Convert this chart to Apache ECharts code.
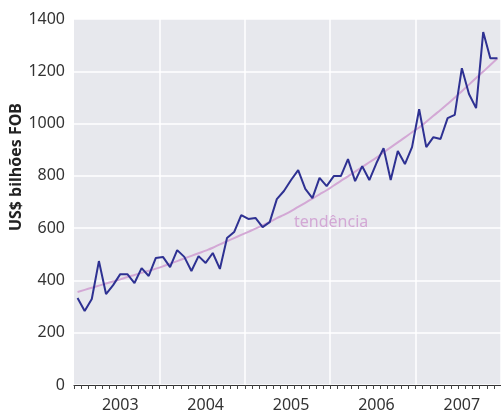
<!DOCTYPE html>
<html>
<head>
<meta charset="utf-8">
<script src="https://cdn.jsdelivr.net/npm/echarts@6/dist/echarts.min.js"></script>
<style>
  html, body { margin: 0; padding: 0; background: #fff; }
  #chart { width: 501px; height: 418px; }
</style>
</head>
<body>
<div id="chart"></div>
<script>
// months Jan 2003 .. Dec 2007
const years = ['2003', '2004', '2005', '2006', '2007']
const months = []
years.forEach(y => { for (let m = 1; m <= 12; m++) months.push(y + '-' + (m < 10 ? '0' + m : m)) })

// exports, US$ bilhões FOB (monthly)
const exportsVal = [
  333, 283, 329, 474, 348, 382, 424, 424, 390, 447, 417, 486,
  490, 451, 516, 490, 436, 493, 467, 505, 444, 562, 585, 650,
  635, 639, 604, 623, 711, 742, 784, 822, 750, 715, 792, 761,
  799, 799, 864, 780, 837, 784, 849, 906, 784, 895, 845, 910,
  1055, 910, 948, 941, 1021, 1033, 1212, 1113, 1059, 1350, 1250, 1250
]
// trend
const trendVal = [
  356, 364, 372, 380, 388, 396, 404, 413, 421, 429, 437, 445,
  454, 464, 474, 484, 494, 504, 514, 525, 538, 550, 562, 574,
  586, 598, 611, 624, 638, 651, 665, 681, 697, 713, 729, 745,
  763, 781, 798, 816, 834, 852, 870, 890, 909, 928, 947, 967,
  985, 1007, 1030, 1052, 1075, 1099, 1124, 1149, 1174, 1199, 1224, 1250
]
const yTicks = [0, 200, 400, 600, 800, 1000, 1200, 1400]

const chart = echarts.init(document.getElementById('chart'))
const font = '"Noto Sans", "Open Sans", sans-serif'

const option = {
  animation: false,
  grid: {
    left: 74, right: 0, top: 19, bottom: 33,
    show: true,
    backgroundColor: '#e7e8ed',
    borderWidth: 0
  },
  xAxis: {
    type: 'category',
    data: months,
    boundaryGap: true,
    axisLine: { lineStyle: { color: '#333', width: 1.2 } },
    axisTick: { show: true, interval: 0, length: 4, lineStyle: { color: '#444' } },
    axisLabel: {
      interval: (i) => i % 12 === 6,
      formatter: (v) => v.slice(0, 4),
      color: '#333',
      fontSize: 16,
      fontFamily: font,
      margin: 12
    },
    splitLine: {
      show: true,
      interval: (i) => i > 0 && i % 12 === 0,
      lineStyle: { color: '#fff', width: 1.5 }
    }
  },
  yAxis: {
    type: 'value',
    min: yTicks[0],
    max: yTicks[yTicks.length - 1],
    interval: 200,
    axisLine: { show: false },
    axisTick: { show: false },
    axisLabel: { color: '#333', fontSize: 16, fontFamily: font, margin: 9, formatter: (v) => String(v) },
    splitLine: { lineStyle: { color: '#fff', width: 1.5 } }
  },
  graphic: [{
    type: 'text',
    left: 8,
    top: 103,
    rotation: Math.PI / 2,
    style: {
      text: 'US$ bilhões FOB',
      fill: '#222',
      font: 'bold 16px ' + font
    }
  }],
  series: [
    {
      name: 'tendência',
      type: 'line',
      data: trendVal,
      smooth: true,
      showSymbol: false,
      lineStyle: { color: '#d3a8d5', width: 2 },
      markPoint: {
        symbol: 'circle',
        symbolSize: 0,
        data: [{
          coord: [30, trendVal[30]],
          label: {
            show: true,
            formatter: 'tendência',
            position: 'right',
            distance: 3,
            offset: [0, 11],
            color: '#d3a8d5',
            fontSize: 16,
            fontFamily: font
          }
        }]
      }
    },
    {
      name: 'exportações',
      type: 'line',
      data: exportsVal,
      showSymbol: false,
      lineStyle: { color: '#2e3192', width: 2 }
    }
  ]
}

chart.setOption(option)
window.addEventListener('resize', () => chart.resize())
</script>
</body>
</html>
